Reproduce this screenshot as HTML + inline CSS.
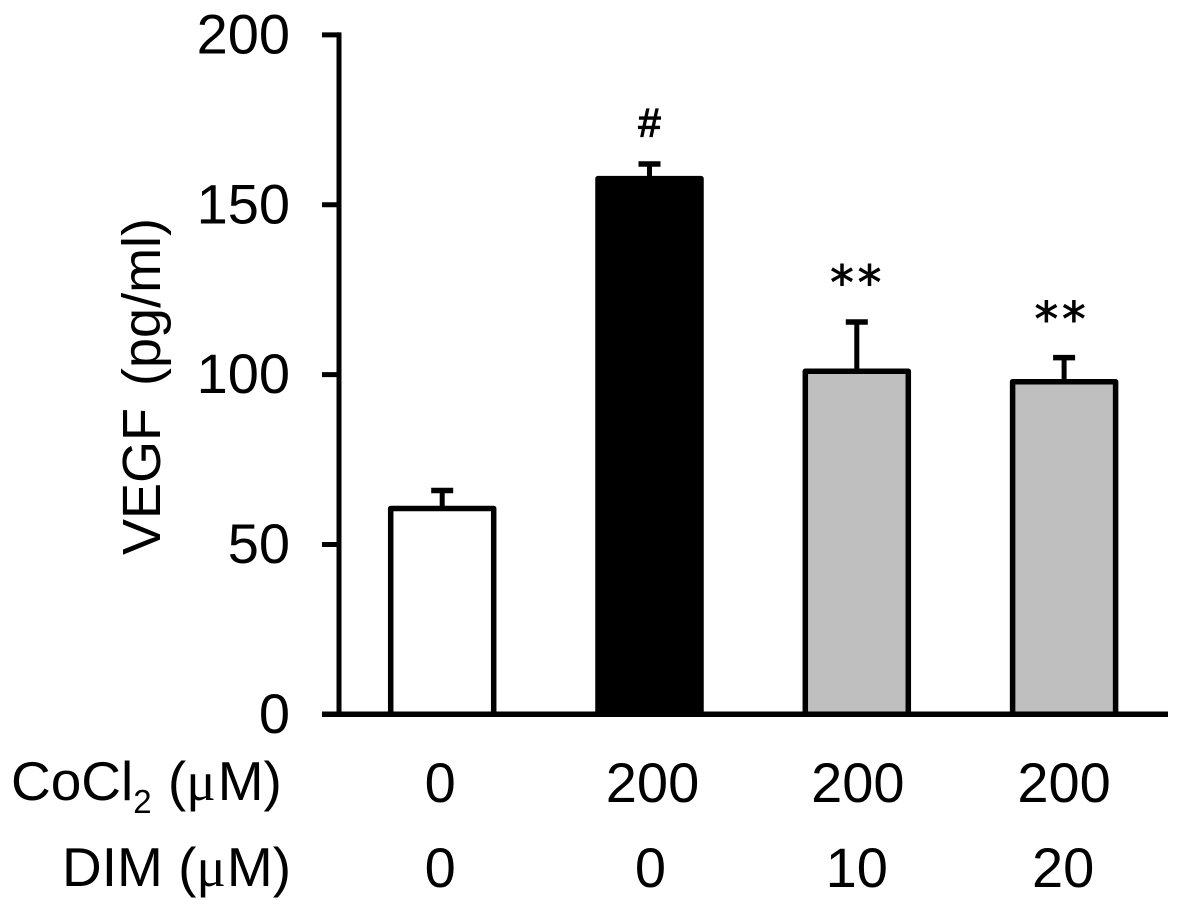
<!DOCTYPE html>
<html lang="en">
<head>
<meta charset="utf-8">
<title>VEGF bar chart</title>
<style>
html,body{margin:0;padding:0;background:#fff;width:1181px;height:911px;overflow:hidden}
svg{display:block}
text{font-family:"Liberation Sans",sans-serif;fill:#000}
</style>
</head>
<body>
<svg id="chart" xmlns="http://www.w3.org/2000/svg" width="1181" height="911" viewBox="0 0 1181 911">
  <text transform="translate(160,555) rotate(-90)" font-size="54" word-spacing="7">VEGF (pg/ml)</text>
  <text x="11" y="800" font-size="55">CoCl<tspan font-size="33" dy="13">2</tspan><tspan dy="-13" dx="1"> (</tspan><tspan style="font-family:'Liberation Serif',serif">μ</tspan><tspan dx="2">M)</tspan></text>
  <text x="62" y="886" font-size="55">DIM (<tspan style="font-family:'Liberation Serif',serif">μ</tspan><tspan dx="1">M)</tspan></text>
</svg>
<script>
const categories = ['control', 'cocl2', 'cocl2-dim10', 'cocl2-dim20'];
const cocl2Labels = ['0', '200', '200', '200'];
const dimLabels = ['0', '0', '10', '20'];
const meanValues = [60.6, 157.7, 101, 97.9];
const errorValues = [5.3, 4.3, 14.5, 7.1];
const significance = ['', '#', '**', '**'];
const yTicks = [0, 50, 100, 150, 200];

const svg = document.getElementById('chart');
const NS = 'http://www.w3.org/2000/svg';
const barFills = ['#ffffff', '#000000', '#bfbfbf', '#bfbfbf'];
const plotLeft = 339, plotRight = 1168, y0 = 714.3, yPerUnit = 3.397;
const firstCenter = 442.2, centerStep = 207.3, barWidth = 103;
const cocl2Nudge = [-2, 3, 1, 0];
const dimNudge = [-2, 1, 0, -1];
const starNudgeX = [0, 0, 1, -2];
const starGap = [0, 0, 23, 22];

function yScale(v) { return y0 - v * yPerUnit; }
function xScale(i) { return firstCenter + i * centerStep; }

function make(tag, attrs, parent) {
  const el = document.createElementNS(NS, tag);
  for (const k in attrs) el.setAttribute(k, attrs[k]);
  (parent || svg).appendChild(el);
  return el;
}

categories.forEach(function (cat, i) {
  const cx = xScale(i);
  const top = yScale(meanValues[i]);
  const errTop = yScale(meanValues[i] + errorValues[i]);
  const stem = make('line', { x1: cx, x2: cx, y1: top, y2: errTop, stroke: '#000', 'stroke-width': 5 });
  
  
  const cap = make('line', { x1: cx - 11, x2: cx + 11, y1: errTop, y2: errTop, stroke: '#000', 'stroke-width': 5.5 });
  
  
  const bar = make('rect', { x: cx - barWidth / 2, y: top, width: barWidth, height: y0 - top, fill: barFills[i], stroke: '#000', 'stroke-width': 5.5, 'stroke-linejoin': 'round' });
  
  

  if (significance[i] === '#') {
    const mark = make('text', { x: cx, y: errTop - 27.5, 'font-size': 40, 'text-anchor': 'middle', stroke: '#000', 'stroke-width': 1.2 });
    mark.textContent = significance[i];
    
    
  } else if (significance[i]) {
    const mark = make('text', { x: cx + starNudgeX[i], y: errTop - starGap[i], 'font-size': 47, 'text-anchor': 'middle', 'letter-spacing': 4, stroke: '#000', 'stroke-width': 0.9, style: 'font-family:"DejaVu Sans",sans-serif' });
    mark.textContent = significance[i];
    
    
  }

  const c = make('text', { x: cx + cocl2Nudge[i], y: 802, 'font-size': 56, 'text-anchor': 'middle' });
  c.textContent = cocl2Labels[i];
  
  
  const d = make('text', { x: cx + dimNudge[i], y: 887, 'font-size': 56, 'text-anchor': 'middle' });
  d.textContent = dimLabels[i];
  
  
});

const yAxis = make('line', { x1: plotLeft, x2: plotLeft, y1: yScale(200) - 2.5, y2: y0, stroke: '#000', 'stroke-width': 5 });


const xAxis = make('line', { x1: 322, x2: plotRight, y1: y0, y2: y0, stroke: '#000', 'stroke-width': 5.5 });



yTicks.forEach(function (t) {
  const y = yScale(t);
  const tick = make('line', { x1: 322, x2: plotLeft, y1: y, y2: y, stroke: '#000', 'stroke-width': 5 });
  
  
  const label = make('text', { x: 290, y: y + 18.5, 'font-size': 56, 'text-anchor': 'end' });
  label.textContent = String(t);
  
  
});
</script>
</body>
</html>
